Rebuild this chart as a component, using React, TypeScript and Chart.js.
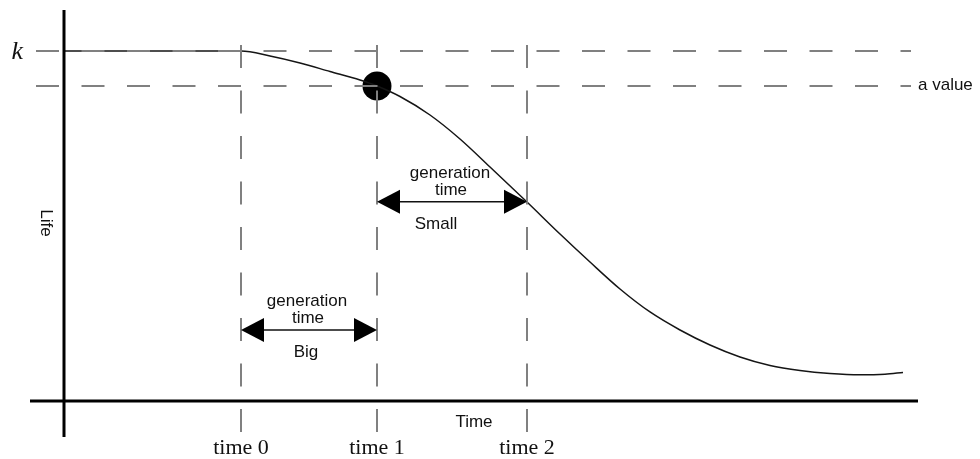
import { useEffect, useRef } from 'react';
import { Chart, registerables } from 'chart.js';

Chart.register(...registerables);

// ---- data ----
const timeTicks = [17.7, 31.3, 46.3];
const tickLabels = ['time 0', 'time 1', 'time 2'];
const kValue = 100;
const aValue = 90;
const aPointX = 31.3;
const refLineStartX = -2.8;
const refLineEndX = 84.7;
const vLineTop = 101.7;
const vLineBottom = -8.9;
const xAxisRange = [-3.4, 85.4];
const yAxisRange = [-10.29, 111.7];
const curveX = [0, 17.7, 20.6, 23.6, 26.6, 29.6, 31.3, 33.6, 36.6, 39.6, 42.6, 46.3, 49.6, 52.6, 55.6, 58.6, 61.6, 64.6, 67.6, 70.6, 73.6, 76.6, 79.6, 82.1, 83.9];
const curveY = [100, 100, 98.57, 96.57, 94.14, 91.71, 90, 87.0, 81.71, 74.86, 66.86, 56.86, 47.71, 39.71, 32.0, 25.43, 20.29, 16.0, 12.57, 10.14, 8.71, 7.86, 7.49, 7.66, 8.14];
const arrowFrom = [17.7, 31.3];
const arrowTo = [31.3, 46.3];
const arrowY = [20.3, 56.9];
const arrowLabels = ['Big', 'Small'];
const arrowTitle = ['generation', 'time'];

const SANS = '"Liberation Sans", Arial, sans-serif';
const SERIF = '"Liberation Serif", "Times New Roman", serif';

const annotate = {
  id: 'annotate',
  afterDatasetsDraw(chart: any) {
    const { ctx, scales, chartArea } = chart;
    const x = scales.x;
    const y = scales.y;
    ctx.save();
    const HEAD = 23;
    const HALF = 12;
    const labelShift = [-3, -16];
    arrowFrom.forEach((f, i) => {
      const x1 = x.getPixelForValue(f);
      const x2 = x.getPixelForValue(arrowTo[i]);
      const py = y.getPixelForValue(arrowY[i]);
      ctx.strokeStyle = '#111';
      ctx.lineWidth = 1.5;
      ctx.beginPath();
      ctx.moveTo(x1 + HEAD - 2, py);
      ctx.lineTo(x2 - HEAD + 2, py);
      ctx.stroke();
      ctx.fillStyle = '#000';
      ctx.beginPath();
      ctx.moveTo(x1, py);
      ctx.lineTo(x1 + HEAD, py - HALF);
      ctx.lineTo(x1 + HEAD, py + HALF);
      ctx.closePath();
      ctx.fill();
      ctx.beginPath();
      ctx.moveTo(x2, py);
      ctx.lineTo(x2 - HEAD, py - HALF);
      ctx.lineTo(x2 - HEAD, py + HALF);
      ctx.closePath();
      ctx.fill();
      const mid = (x1 + x2) / 2;
      ctx.font = `17px ${SANS}`;
      ctx.textAlign = 'center';
      ctx.textBaseline = 'alphabetic';
      ctx.fillStyle = '#111';
      ctx.fillText(arrowTitle[0], mid - 2, py - 24);
      ctx.fillText(arrowTitle[1], mid - 1, py - 7);
      ctx.fillText(arrowLabels[i], mid + labelShift[i], py + 27);
    });

    const x0 = x.getPixelForValue(0);
    const y0 = y.getPixelForValue(0);
    // k label
    ctx.font = `italic 26px ${SERIF}`;
    ctx.textAlign = 'right';
    ctx.textBaseline = 'alphabetic';
    ctx.fillStyle = '#111';
    ctx.fillText('k', x0 - 41, y.getPixelForValue(kValue) + 8);
    // a value label
    ctx.font = `17px ${SANS}`;
    ctx.textAlign = 'left';
    ctx.textBaseline = 'middle';
    ctx.fillText('a value', x.getPixelForValue(refLineEndX) + 7, y.getPixelForValue(aValue) - 1);
    // Time title
    ctx.textAlign = 'center';
    ctx.textBaseline = 'alphabetic';
    ctx.fillText('Time', (chartArea.left + chartArea.right) / 2, y0 + 26);
    // Life title (rotated clockwise)
    ctx.translate(x0 - 18, (chartArea.top + chartArea.bottom) / 2);
    ctx.rotate(Math.PI / 2);
    ctx.textAlign = 'center';
    ctx.textBaseline = 'middle';
    ctx.fillText('Life', 0, 0);
    ctx.restore();
  },
};

const dashed = {
  borderColor: '#808080',
  borderWidth: 2,
  borderDash: [23, 22.5],
  pointRadius: 0,
  showLine: true,
  fill: false,
};

export default function App() {
  const ref = useRef<HTMLCanvasElement>(null);
  useEffect(() => {
    document.body.style.margin = '0';
    const canvas = ref.current;
    if (!canvas) return;
    const datasets: any[] = [
      { ...dashed, data: [{ x: refLineStartX, y: kValue }, { x: refLineEndX, y: kValue }] },
      { ...dashed, data: [{ x: refLineStartX, y: aValue }, { x: refLineEndX, y: aValue }] },
      ...timeTicks.map((t) => ({ ...dashed, data: [{ x: t, y: vLineTop }, { x: t, y: vLineBottom }] })),
      {
        data: [{ x: xAxisRange[0], y: 0 }, { x: xAxisRange[1], y: 0 }],
        borderColor: '#000', borderWidth: 3, pointRadius: 0, showLine: true, clip: false,
      },
      {
        data: [{ x: 0, y: yAxisRange[1] }, { x: 0, y: yAxisRange[0] }],
        borderColor: '#000', borderWidth: 3, pointRadius: 0, showLine: true, clip: false,
      },
      {
        data: curveX.map((v, i) => ({ x: v, y: curveY[i] })),
        borderColor: '#151515', borderWidth: 1.5, pointRadius: 0, showLine: true,
        tension: 0.4, cubicInterpolationMode: 'monotone',
      },
      {
        data: [{ x: aPointX, y: aValue }],
        pointRadius: 14.5, pointBackgroundColor: '#000', pointBorderWidth: 0, showLine: false,
      },
    ];
    const chart = new Chart(canvas, {
      type: 'scatter',
      data: { datasets },
      options: {
        animation: false,
        responsive: true,
        maintainAspectRatio: false,
        events: [],
        layout: { autoPadding: false, padding: { left: 30, right: 62, top: 9, bottom: 0 } },
        plugins: { legend: { display: false }, tooltip: { enabled: false } },
        scales: {
          x: {
            type: 'linear',
            position: 'bottom',
            min: xAxisRange[0],
            max: xAxisRange[1],
            afterBuildTicks: (axis: any) => {
              axis.ticks = timeTicks.map((v) => ({ value: v }));
            },
            afterFit: (axis: any) => {
              axis.height = 22;
            },
            ticks: {
              autoSkip: false,
              maxRotation: 0,
              minRotation: 0,
              padding: 0,
              color: '#111',
              font: { family: SERIF, size: 22, lineHeight: 1 },
              callback: (_v: any, i: number) => tickLabels[i],
            },
            grid: { display: false, drawTicks: false },
            border: { display: false },
          },
          y: {
            type: 'linear',
            min: yAxisRange[0],
            max: 112,
            display: false,
          },
        },
      },
      plugins: [annotate],
    } as any);
    return () => chart.destroy();
  }, []);
  return (
    <div style={{ width: 980, height: 459, position: 'relative' }}>
      <canvas ref={ref} />
    </div>
  );
}
